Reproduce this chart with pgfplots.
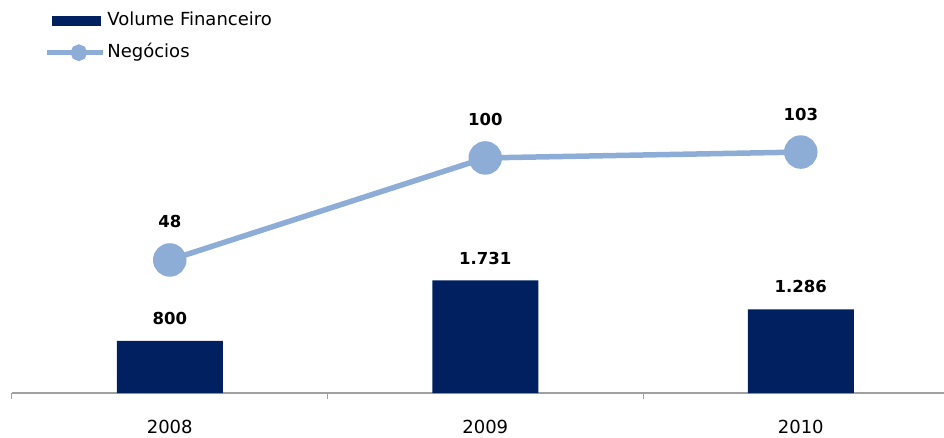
\documentclass[border=0pt]{standalone}
\usepackage{pgfplots}
\pgfplotsset{compat=1.18}
\usepackage{fontspec}
\setmainfont{DejaVu Sans}
\definecolor{barcol}{RGB}{0,32,96}
\definecolor{linecol}{RGB}{142,173,214}
\definecolor{axiscol}{RGB}{160,160,160}
\begin{document}
\begin{tikzpicture}
\useasboundingbox (0,0) rectangle (944pt,437pt);
% bars: Volume Financeiro
\begin{axis}[
    at={(12pt,44pt)}, anchor=south west,
    scale only axis, width=932pt, height=300pt,
    xmin=-0.5, xmax=2.454, ymin=0, ymax=4615,
    axis x line*=bottom, axis y line=none,
    axis line style={axiscol, line width=1.5pt, -},
    xtick={0,1,2}, xticklabels={2008,2009,2010},
    major tick length=0pt,
    minor xtick={-0.5,0.5,1.5},
    minor tick length=6pt, tick align=outside,
    minor tick style={axiscol, line width=1pt},
    xticklabel style={font=\fontsize{18}{18}\selectfont, inner sep=0pt,
        text height=13pt, anchor=north, yshift=-27.5pt},
    clip=false,
]
\addplot[ybar, fill=barcol, draw=none, bar width=106pt,
    point meta=explicit symbolic, nodes near coords,
    every node near coord/.append style={font=\fontsize{16.5}{16.5}\bfseries\selectfont,
        anchor=south, inner sep=0pt, yshift=16pt}]
    coordinates {(0,800) [800] (1,1731) [1.731] (2,1286) [1.286]};
\end{axis}
% line: Negócios
\begin{axis}[
    at={(12pt,44pt)}, anchor=south west,
    scale only axis, width=932pt, height=300pt,
    xmin=-0.5, xmax=2.454, ymin=-19.8, ymax=133.1,
    axis x line=none, axis y line=none,
    clip=false,
    legend style={draw=none, fill=none, at={(axis description cs:0.0345,1.27)},
        anchor=north west, inner sep=0pt, row sep=15pt, column sep=2pt,
        nodes={inner sep=0pt, text height=13pt, text depth=4pt,
            font=\fontsize{18}{18}\selectfont}},
    legend cell align=left,
]
\addlegendimage{legend image code/.code={
    \fill[barcol] (5pt,-4.5pt) rectangle (53pt,4.5pt);}}
\addlegendentry{Volume Financeiro}
\addplot[color=linecol, line width=5.5pt, mark=*, mark size=14pt,
    mark options={fill=linecol, draw=none},
    point meta=explicit symbolic, nodes near coords,
    every node near coord/.append style={font=\fontsize{16.5}{16.5}\bfseries\selectfont,
        black, anchor=south, inner sep=0pt, yshift=29pt},
    legend image code/.code={
        \draw[linecol, line width=5pt] (0pt,0pt) -- (56pt,0pt);
        \fill[linecol] (32pt,0pt) circle (5.5pt);}]
    coordinates {(0,48) [48] (1,100) [100] (2,103) [103]};
\addlegendentry{Negócios}
\end{axis}
\end{tikzpicture}
\end{document}
